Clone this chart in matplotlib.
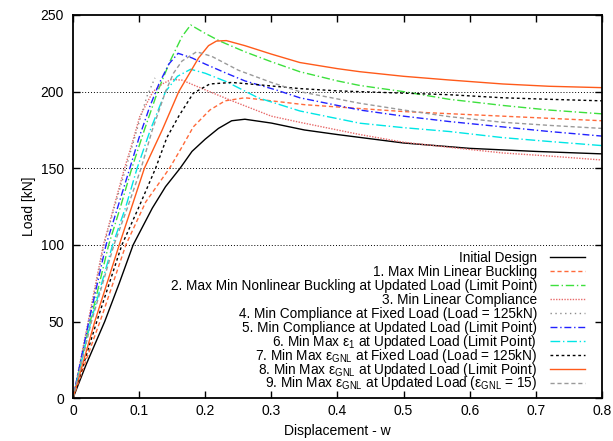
import matplotlib
matplotlib.use("Agg")
import matplotlib.pyplot as plt

plt.rcParams["font.family"] = ["Liberation Sans", "DejaVu Sans"]
plt.rcParams["mathtext.fontset"] = "custom"
plt.rcParams["mathtext.rm"] = "Liberation Sans"
plt.rcParams["mathtext.it"] = "Liberation Sans:italic"

EPS_GNL = r"$\mathregular{\varepsilon_{GNL}}$"

labels = [
    "Initial Design",
    "1. Max Min Linear Buckling",
    "2. Max Min Nonlinear Buckling at Updated Load (Limit Point)",
    "3. Min Linear Compliance",
    "4. Min Compliance at Fixed Load (Load = 125kN)",
    "5. Min Compliance at Updated Load (Limit Point)",
    r"6. Min Max $\mathregular{\varepsilon_1}$ at Updated Load (Limit Point)",
    "7. Min Max " + EPS_GNL + " at Fixed Load (Load = 125kN)",
    "8. Min Max " + EPS_GNL + " at Updated Load (Limit Point)",
    "9. Min Max " + EPS_GNL + " at Updated Load (" + EPS_GNL + " = 15)",
]

# displacement / load pairs
w0 = [0, 0.02, 0.048, 0.07, 0.091, 0.12, 0.14, 0.162, 0.18, 0.2, 0.22, 0.24, 0.26, 0.3, 0.35, 0.4, 0.5, 0.6, 0.7, 0.8]
p0 = [0, 22, 50, 75, 100, 124, 138, 150, 161, 169, 176, 181, 182, 179.5, 175, 172, 166.5, 163, 161, 159.4]

w1 = [0, 0.02, 0.045, 0.08, 0.11, 0.146, 0.165, 0.182, 0.207, 0.23, 0.26, 0.3, 0.35, 0.4, 0.5, 0.6, 0.7, 0.8]
p1 = [0, 25, 55, 100, 128, 150, 164, 177, 188, 194, 196, 194, 191.5, 190, 187, 185, 183, 181]

w2 = [0, 0.025, 0.054, 0.072, 0.089, 0.108, 0.128, 0.147, 0.165, 0.178, 0.2, 0.222, 0.26, 0.3, 0.343, 0.4, 0.434, 0.5, 0.569, 0.65, 0.72, 0.8]
p2 = [0, 48, 100, 125, 150, 175, 200, 220, 236, 243.5, 238, 233, 226, 219.5, 213, 207, 204, 200, 195, 191, 188, 185.5]

w3 = [0, 0.023, 0.046, 0.062, 0.078, 0.09, 0.101, 0.121, 0.135, 0.149, 0.165, 0.182, 0.237, 0.3, 0.343, 0.434, 0.5, 0.569, 0.65, 0.72, 0.8]
p3 = [0, 50, 100, 125, 150, 167, 183.7, 200, 205, 208, 207.5, 204.4, 194.6, 184, 180, 172, 167, 163.7, 160, 158, 155.4]

w4 = [0, 0.024, 0.047, 0.063, 0.08, 0.1, 0.112, 0.124]
p4 = [0, 50, 100, 125, 150, 180, 197, 209]

w5 = [0, 0.024, 0.05, 0.068, 0.086, 0.1, 0.116, 0.13, 0.145, 0.159, 0.18, 0.2, 0.232, 0.26, 0.308, 0.343, 0.4, 0.434, 0.5, 0.569, 0.65, 0.72, 0.8]
p5 = [0, 50, 100, 125, 150, 170, 190, 205, 218, 225, 222, 218, 212, 207, 201, 196, 191, 188, 184, 180.5, 177, 174, 171]

w6 = [0, 0.027, 0.06, 0.08, 0.097, 0.117, 0.14, 0.158, 0.178, 0.2, 0.232, 0.28, 0.343, 0.434, 0.5, 0.569, 0.65, 0.72, 0.8]
p6 = [0, 50, 100, 125, 150, 175, 200, 210, 214.6, 212, 206.5, 196, 187.4, 179.4, 176.5, 174, 170, 167.5, 164.8]

w7 = [0, 0.036, 0.074, 0.1, 0.125, 0.142, 0.16, 0.182, 0.207, 0.24, 0.28, 0.343, 0.4, 0.5, 0.569, 0.65, 0.72, 0.8]
p7 = [0, 50, 100, 125, 150, 170, 184, 199, 205, 206, 204.5, 202, 200.5, 199, 198, 196, 195, 194]

w8 = [0, 0.033, 0.07, 0.108, 0.135, 0.16, 0.19, 0.205, 0.217, 0.232, 0.26, 0.3, 0.343, 0.4, 0.434, 0.5, 0.569, 0.65, 0.72, 0.8]
p8 = [0, 50, 100, 150, 175, 200, 222, 230, 233, 233.3, 230, 224.5, 219, 215, 213, 210, 207.6, 205, 203.5, 202.6]

w9 = [0, 0.028, 0.062, 0.083, 0.103, 0.12, 0.14, 0.152, 0.165, 0.187, 0.21, 0.25, 0.3, 0.343, 0.434, 0.5, 0.569, 0.65, 0.72, 0.8]
p9 = [0, 50, 100, 125, 150, 175, 200, 212, 220, 226, 223, 214, 206, 200, 192.4, 188, 183.7, 180, 178, 176]

xs = [w0, w1, w2, w3, w4, w5, w6, w7, w8, w9]
ys = [p0, p1, p2, p3, p4, p5, p6, p7, p8, p9]

colors = ["black", "#ff6a3a", "#3de03d", "#e86a6a", "#8c8c8c",
          "#2222ff", "#00e6e6", "black", "#ff5a1a", "#9a9a9a"]
dashes = [None, (3, 2), (6, 2, 1, 2), (1, 1), (1, 2.5),
          (5, 2, 1, 2), (7, 2, 1, 2), (2, 2), None, (3, 2)]

grid_y = [100, 150, 200]

fig = plt.figure(figsize=(6.13, 4.41), dpi=100)
ax = fig.add_axes([0.119, 0.097, 0.863, 0.869])

for yv in grid_y:
    ax.axhline(yv, color="black", lw=0.7, ls=(0, (1, 2)), zorder=0)

for x, y, c, d in zip(xs, ys, colors, dashes):
    line, = ax.plot(x, y, color=c, lw=1.0)
    if d is not None:
        line.set_dashes(d)

# key drawn by hand, gnuplot style: right-aligned text, sample on the right
top, pitch = 0.368, 0.0365
for i, (lab, c, d) in enumerate(zip(labels, colors, dashes)):
    yk = top - i * pitch
    ax.text(0.877, yk - 0.0115, lab, ha="right", va="baseline", fontsize=9.8,
            transform=ax.transAxes)
    key, = ax.plot([0.902, 0.968], [yk, yk], color=c, lw=1.0, transform=ax.transAxes)
    if d is not None:
        key.set_dashes(d)

ax.set_xlim(0, 0.8)
ax.set_ylim(0, 250)
ax.set_xticks([0, 0.1, 0.2, 0.3, 0.4, 0.5, 0.6, 0.7, 0.8])
ax.set_xticklabels(["0", "0.1", "0.2", "0.3", "0.4", "0.5", "0.6", "0.7", "0.8"])
ax.set_yticks([0, 50, 100, 150, 200, 250])
ax.tick_params(direction="in", top=True, right=True, length=5, width=1, labelsize=10)
ax.tick_params(axis="x", pad=4.5)
ax.tick_params(axis="y", pad=6.5)
for s in ax.spines.values():
    s.set_linewidth(1.3)

ax.set_xlabel("Displacement - w", fontsize=10, labelpad=4)
ax.set_ylabel("Load [kN]", fontsize=10, labelpad=3)

fig.savefig("out.png", dpi=100)
